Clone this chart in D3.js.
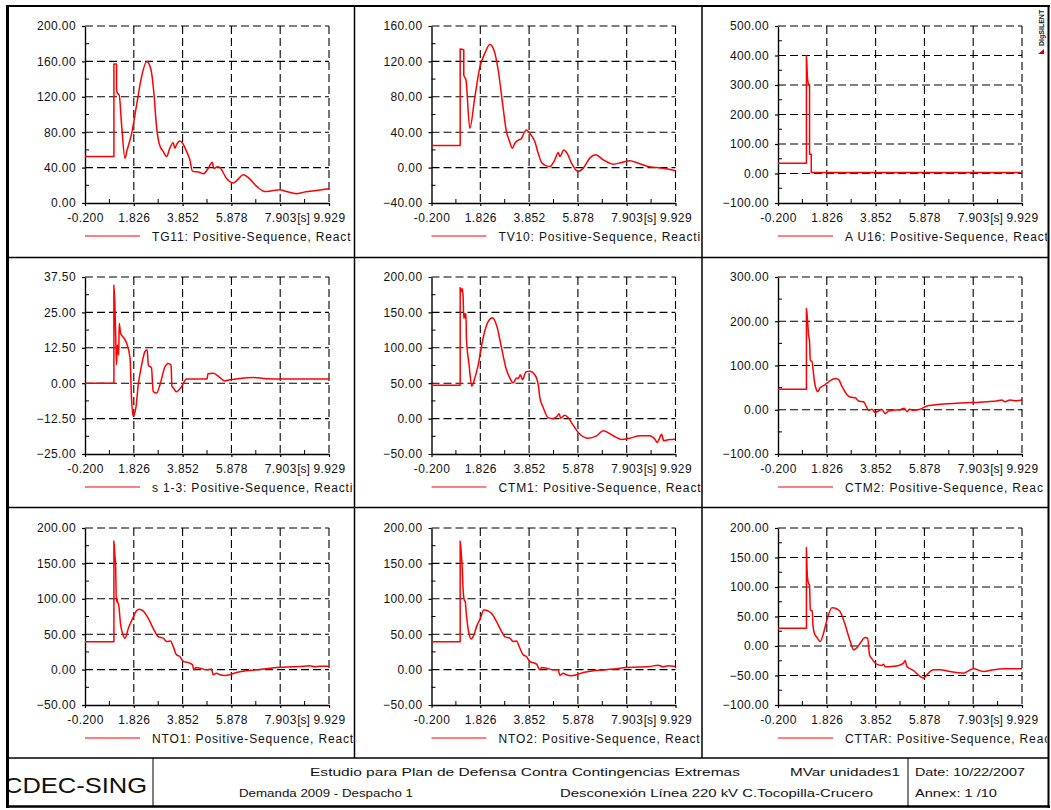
<!DOCTYPE html>
<html>
<head>
<meta charset="utf-8">
<script src="https://cdn.jsdelivr.net/npm/d3@7"></script>
<style>
    body { margin: 0; background: #fff; }
    svg text { font-family: "Liberation Sans", Arial, Helvetica, sans-serif; fill: #111; }
</style>
</head>
<body>
<svg id="chart" width="1051" height="810"></svg>
<script>
// time axis (seconds)
const timeTicks = [-0.2, 1.826, 3.852, 5.878, 7.903, 9.929];
const timeTickLabels = ["-0.200", "1.826", "3.852", "5.878", "7.903", "9.929"];
const timeUnit = "[s]";

// legend labels, as far as the plot cell shows them
const legendNames = [
    "TG11: Positive-Sequence, React",
    "TV10: Positive-Sequence, Reacti",
    "A U16: Positive-Sequence, React",
    "s 1-3: Positive-Sequence, Reactiv",
    "CTM1: Positive-Sequence, React",
    "CTM2: Positive-Sequence, Reac",
    "NTO1: Positive-Sequence, React",
    "NTO2: Positive-Sequence, React",
    "CTTAR: Positive-Sequence, Reac"
];

const yTicks = [
    [0, 40, 80, 120, 160, 200],
    [-40, 0, 40, 80, 120, 160],
    [-100, 0, 100, 200, 300, 400, 500],
    [-25, -12.5, 0, 12.5, 25, 37.5],
    [-50, 0, 50, 100, 150, 200],
    [-100, 0, 100, 200, 300],
    [-50, 0, 50, 100, 150, 200],
    [-50, 0, 50, 100, 150, 200],
    [-100, -50, 0, 50, 100, 150, 200]
];

// reactive power traces [t, MVar]
const tg11 = [[-0.2,52.5],[1.0,52.5],[1.0,157],[1.11,157],[1.11,128],[1.15,124],[1.22,122],[1.32,88],[1.46,50.5],[1.55,60],[1.74,79],[1.95,112],[2.15,143],[2.36,160],[2.46,157],[2.56,148],[2.66,124],[2.77,86],[2.88,67],[3.05,58],[3.19,52.5],[3.32,62],[3.46,68],[3.53,62],[3.6,66],[3.74,70],[3.85,67.5],[4.02,58],[4.15,49],[4.26,36],[4.57,34.5],[4.71,33],[4.91,39],[5.08,46],[5.15,39],[5.29,41],[5.4,40],[5.67,28],[5.95,22.5],[6.16,27],[6.36,32],[6.57,29],[6.92,19],[7.26,13],[7.61,14],[7.88,15],[8.16,13],[8.58,10.5],[8.85,12],[9.06,13],[9.4,14],[9.93,16]];
const tv10 = [[-0.2,25],[0.99,25],[0.99,134],[1.14,133],[1.14,104.5],[1.23,99],[1.39,44.4],[1.6,80],[1.81,113.8],[2.01,128.9],[2.22,139],[2.39,133],[2.57,110],[2.75,72.6],[2.91,40.7],[3.02,31.3],[3.16,21.9],[3.26,27.5],[3.4,31],[3.54,33],[3.63,38.8],[3.74,42.6],[3.88,38.8],[4.09,29.4],[4.23,16.2],[4.37,5.7],[4.57,1.9],[4.71,1.2],[4.92,8.8],[5.06,17],[5.13,12.5],[5.29,20],[5.43,16.3],[5.61,5],[5.89,-4.4],[6.1,-0.6],[6.37,10.7],[6.62,14.4],[6.93,8.8],[7.34,3.9],[7.69,5.8],[8.03,7.7],[8.38,5],[8.79,1.3],[9.14,0.1],[9.35,-0.6],[9.55,-1.4],[9.93,-3.6]];
const au16 = [[-0.2,35],[0.98,35],[0.98,400],[1.02,330],[1.06,305],[1.11,300],[1.11,65],[1.18,65],[1.18,3],[9.93,3]];
const s13 = [[-0.2,0],[1.0,0],[1.0,34.6],[1.04,27.6],[1.07,18.2],[1.11,6.5],[1.14,13.5],[1.2,10],[1.22,21.1],[1.28,17.6],[1.42,15.9],[1.53,14.1],[1.67,8.8],[1.73,-5.1],[1.8,-11.6],[1.91,-8.8],[2.01,-0.6],[2.15,6.4],[2.29,11.2],[2.38,11.8],[2.43,6.4],[2.56,5.4],[2.63,-2.9],[2.77,-3.5],[2.91,-0.6],[3.12,5.8],[3.25,7],[3.37,6.4],[3.41,-1.2],[3.46,-1.6],[3.6,-3],[3.81,-1.2],[4.01,1.5],[4.22,1.5],[4.57,1.5],[4.87,1.5],[4.9,3.3],[5.12,3.5],[5.4,2],[5.6,0.8],[5.81,1.2],[6.23,1.7],[6.78,2],[7.33,1.6],[8.02,1.5],[9.93,1.5]];
const ctm1 = [[-0.2,47],[0.99,47],[0.99,185],[1.02,179],[1.07,183.6],[1.11,174],[1.14,141.6],[1.17,148.6],[1.2,141.6],[1.23,148.6],[1.25,113.5],[1.36,76],[1.47,45.8],[1.6,57.5],[1.74,76],[1.94,113.5],[2.15,137],[2.33,142.5],[2.5,132],[2.71,99.5],[2.91,69],[3.05,57.5],[3.19,50.5],[3.33,57.5],[3.4,56.5],[3.49,62],[3.58,55],[3.72,66],[3.88,67],[4.09,62],[4.23,48],[4.3,29.4],[4.44,15.4],[4.64,1.4],[4.85,0],[5.02,3.7],[5.1,7],[5.16,0.5],[5.33,4.7],[5.47,1.4],[5.61,-5.6],[5.96,-22],[6.3,-27.6],[6.65,-24.3],[6.93,-17.3],[7.34,-24.3],[7.69,-29.4],[8.03,-27.6],[8.45,-24.3],[8.86,-24.3],[9.07,-29],[9.17,-33.6],[9.25,-29],[9.35,-22],[9.44,-31.3],[9.62,-30],[9.93,-29]];
const ctm2 = [[-0.2,46.5],[0.98,46.5],[0.98,229],[1.03,199],[1.07,169],[1.11,154],[1.14,111],[1.21,109.6],[1.25,94],[1.31,64.5],[1.39,45.8],[1.44,40.6],[1.55,49.5],[1.76,57],[1.97,66],[2.18,70.5],[2.32,68],[2.45,53.3],[2.66,34.6],[2.8,28.6],[3.01,27],[3.14,19.6],[3.35,18.1],[3.49,4.7],[3.56,-1.3],[3.7,1],[3.84,-6.5],[3.97,-2.8],[4.11,1],[4.25,-8.8],[4.39,-2.8],[4.6,-1.3],[4.87,0.2],[5.04,3.2],[5.15,-4.3],[5.26,1],[5.42,-1.3],[5.7,1],[5.98,8.4],[6.25,10.6],[6.67,12.9],[7.08,14.4],[7.64,15.9],[8.05,16.6],[8.46,18.1],[8.88,19.6],[9.09,21.9],[9.22,18.1],[9.43,21.9],[9.71,20.4],[9.93,21.9]];
const nto1 = [[-0.2,39.5],[1.0,39.5],[1.0,181.7],[1.04,161.5],[1.07,147.5],[1.1,95.9],[1.13,100.6],[1.15,95.9],[1.2,91.2],[1.28,63],[1.36,51.3],[1.46,44.3],[1.6,58.3],[1.78,72.4],[1.91,81.8],[2.05,85.1],[2.22,82.7],[2.43,72.4],[2.63,58.3],[2.84,46.6],[3.05,44.3],[3.19,39.6],[3.35,40.5],[3.46,32.6],[3.6,20.8],[3.74,18.5],[3.88,11.5],[4.15,9.1],[4.26,6.8],[4.32,-0.3],[4.4,3],[4.57,2.1],[4.84,-0.3],[5.05,0.7],[5.12,-7.3],[5.26,-5],[5.4,-7.3],[5.6,-8.3],[5.81,-7.3],[6.09,-4],[6.5,-1.7],[6.92,-0.3],[7.33,1.1],[7.75,3],[8.16,3.5],[8.71,4.4],[9.13,5.4],[9.34,4],[9.54,4.9],[9.93,4.9]];
const nto2 = [[-0.2,39.5],[0.99,39.5],[0.99,181.7],[1.05,156.8],[1.07,147.5],[1.11,114.6],[1.16,98.2],[1.2,95.9],[1.25,77],[1.34,53.7],[1.45,43.3],[1.56,49],[1.67,60.7],[1.83,72.4],[1.97,84.2],[2.15,82.7],[2.29,79.5],[2.5,67.7],[2.71,53.7],[2.84,46.6],[3.05,44.3],[3.19,39.6],[3.33,40.5],[3.44,32.6],[3.61,20.8],[3.74,18.5],[3.88,11.5],[4.16,7.7],[4.3,-0.3],[4.37,3],[4.57,2.1],[4.85,-0.3],[5.06,-0.3],[5.13,-8.3],[5.27,-5],[5.4,-7.3],[5.61,-8.7],[5.82,-7.3],[6.1,-4],[6.51,-1.7],[6.93,-0.7],[7.34,0.7],[7.9,3],[8.45,3.5],[8.86,4.4],[9.21,6.3],[9.42,4],[9.62,5.4],[9.93,4.4]];
const cttar = [[-0.2,30],[0.98,30],[0.98,166.8],[1.0,137],[1.03,114.4],[1.07,106],[1.11,103.2],[1.14,61],[1.22,59.3],[1.25,35.6],[1.31,21.6],[1.42,14.3],[1.55,7.5],[1.69,21.6],[1.83,44.1],[2.04,65],[2.25,62.7],[2.38,58.2],[2.59,35.6],[2.8,7.5],[2.94,-6.6],[3.08,-2.6],[3.21,4.7],[3.42,14.3],[3.52,13.1],[3.6,-15],[3.7,-21.8],[3.9,-30.8],[4.11,-33],[4.18,-30.8],[4.25,-35.3],[4.53,-34.7],[4.8,-33],[5.01,-29.1],[5.08,-24.6],[5.15,-34.7],[5.42,-41.5],[5.7,-51.6],[5.84,-54.4],[5.98,-48.8],[6.25,-40.3],[6.53,-40.3],[6.94,-43.2],[7.5,-46],[7.91,-38.7],[8.33,-43.2],[8.74,-40.3],[9.16,-38.7],[9.57,-38.7],[9.93,-38.7]];

const series = [tg11, tv10, au16, s13, ctm1, ctm2, nto1, nto2, cttar];

const footerTitle = "Estudio para Plan de Defensa Contra Contingencias Extremas";
const footerCase = "Demanda 2009 - Despacho 1";
const footerEvent = "Desconexión Línea 220 kV C.Tocopilla-Crucero";
const footerPage = "MVar unidades1";
const footerDate = "Date:  10/22/2007";
const footerAnnex = "Annex: 1 /10";

const svg = d3.select('#chart');
const W = 244, H = 177;
const colEdges = [9, 354.5, 702, 1048];
const x = d3.scaleLinear().domain([-0.2, 9.929]).range([0, W]);
const fmt = d3.format('.2f');
const defs = svg.append('defs');

series.forEach((data, i) => {
    const col = i % 3, row = Math.floor(i / 3);
    const left = 85 + col * 346.5;
    const top = 26 + row * 251;
    const ticks = yTicks[i];
    const y = d3.scaleLinear().domain([ticks[0], ticks[ticks.length - 1]]).range([H, 0]);

    defs.append('clipPath').attr('id', `cell${i}`)
        .append('rect')
        .attr('x', colEdges[col] - left).attr('y', -26)
        .attr('width', colEdges[col + 1] - colEdges[col] - 1).attr('height', 250);

    const g = svg.append('g')
        .attr('transform', `translate(${left},${top})`)
        .attr('clip-path', `url(#cell${i})`);

    // dashed grid (top and right edge included)
    g.append('g').selectAll('line')
        .data(timeTicks.slice(1))
        .join('line')
        .attr('x1', d => x(d)).attr('x2', d => x(d))
        .attr('y1', 0).attr('y2', H)
        .attr('stroke', '#000').attr('stroke-width', 1.1)
        .attr('stroke-dasharray', '8,4');
    g.append('g').selectAll('line')
        .data(ticks.slice(1))
        .join('line')
        .attr('x1', 0).attr('x2', W)
        .attr('y1', d => y(d)).attr('y2', d => y(d))
        .attr('stroke', '#000').attr('stroke-width', 1.1)
        .attr('stroke-dasharray', '8,4');

    // minor ticks, inside
    const xMinor = d3.pairs(timeTicks).map(p => (p[0] + p[1]) / 2);
    const yMinor = d3.pairs(ticks).map(p => (p[0] + p[1]) / 2);
    g.append('g').selectAll('line')
        .data(xMinor)
        .join('line')
        .attr('x1', d => x(d)).attr('x2', d => x(d))
        .attr('y1', H).attr('y2', H - 4)
        .attr('stroke', '#000');
    g.append('g').selectAll('line')
        .data(yMinor)
        .join('line')
        .attr('x1', 0).attr('x2', 4)
        .attr('y1', d => y(d)).attr('y2', d => y(d))
        .attr('stroke', '#000');

    const yAxis = g.append('g')
        .call(d3.axisLeft(y).tickValues(ticks).tickFormat(fmt).tickSize(3).tickSizeOuter(0).tickPadding(6));
    const xAxis = g.append('g')
        .attr('transform', `translate(0,${H})`)
        .call(d3.axisBottom(x).tickValues(timeTicks).tickFormat((d, k) => timeTickLabels[k]).tickSize(3).tickSizeOuter(0).tickPadding(7.5));
    [yAxis, xAxis].forEach(a => {
        a.select('.domain').attr('stroke', '#000').attr('stroke-width', 1.4);
        a.selectAll('.tick line').attr('stroke', '#000').attr('stroke-width', 1.2);
        a.selectAll('text')
            .style('font-size', '12px')
            .style('letter-spacing', '0.4px')
            .attr('fill', '#111');
    });
    xAxis.append('text')
        .attr('x', (x(timeTicks[4]) + x(timeTicks[5])) / 2 - 1)
        .attr('y', 19)
        .attr('text-anchor', 'middle')
        .style('font-size', '12px')
        .text(timeUnit);

    const line = d3.line()
        .x(d => x(d[0]))
        .y(d => y(d[1]))
        .curve(d3.curveMonotoneX);
    g.append('path')
        .datum(data)
        .attr('d', line)
        .attr('fill', 'none')
        .attr('stroke', '#f00')
        .attr('stroke-width', 1.5)
        .attr('stroke-linejoin', 'round');

    // legend
    g.append('line')
        .attr('x1', 0).attr('x2', 55)
        .attr('y1', 210).attr('y2', 210)
        .attr('stroke', '#f00').attr('stroke-width', 1.2);
    g.append('text')
        .attr('x', 67).attr('y', 215)
        .style('font-size', '12px')
        .style('letter-spacing', '0.85px')
        .text(legendNames[i]);
});

// frame
const frame = svg.append('g').attr('stroke', '#000').attr('fill', 'none');
frame.append('line').attr('x1', 7.5).attr('x2', 7.5).attr('y1', 5).attr('y2', 808).attr('stroke-width', 3);
frame.append('line').attr('x1', 6).attr('x2', 1050).attr('y1', 6).attr('y2', 6).attr('stroke-width', 2);
frame.append('line').attr('x1', 1048.5).attr('x2', 1048.5).attr('y1', 5).attr('y2', 808).attr('stroke-width', 2);
frame.append('line').attr('x1', 6).attr('x2', 1050).attr('y1', 806.5).attr('y2', 806.5).attr('stroke-width', 2.5);
[257.5, 507.5, 758].forEach(yy => {
    frame.append('line').attr('x1', 7).attr('x2', 1049).attr('y1', yy).attr('y2', yy).attr('stroke-width', 1.5);
});
[colEdges[1], colEdges[2]].forEach(xx => {
    frame.append('line').attr('x1', xx).attr('x2', xx).attr('y1', 6).attr('y2', 758).attr('stroke-width', 1.5);
});
[153, 908].forEach(xx => {
    frame.append('line').attr('x1', xx).attr('x2', xx).attr('y1', 758).attr('y2', 806).attr('stroke-width', 1);
});

// footer
defs.append('clipPath').attr('id', 'logoClip')
    .append('rect').attr('x', 9).attr('y', 759).attr('width', 143).attr('height', 46);
svg.append('text')
    .attr('x', 4).attr('y', 793)
    .attr('clip-path', 'url(#logoClip)')
    .attr('textLength', 143).attr('lengthAdjust', 'spacingAndGlyphs')
    .style('font-size', '22px')
    .text('CDEC-SING');

const footerTexts = [
    {t: footerTitle, x: 310, y: 776, w: 430, s: 11.5},
    {t: footerPage, x: 790, y: 776, w: 110, s: 11.5},
    {t: footerDate, x: 915, y: 776, w: 110, s: 11},
    {t: footerCase, x: 239, y: 797, w: 174, s: 11.5},
    {t: footerEvent, x: 560, y: 797, w: 313, s: 11.5},
    {t: footerAnnex, x: 915, y: 797, w: 82, s: 10.5}
];
svg.append('g').selectAll('text')
    .data(footerTexts)
    .join('text')
    .attr('x', d => d.x).attr('y', d => d.y)
    .attr('textLength', d => d.w).attr('lengthAdjust', 'spacingAndGlyphs')
    .style('font-size', d => d.s + 'px')
    .text(d => d.t);

// DIgSILENT mark
svg.append('text')
    .attr('transform', 'translate(1044,46) rotate(-90)')
    .style('font-size', '7px')
    .style('font-weight', 'bold')
    .text('DIgSILENT');
svg.append('path')
    .attr('d', 'M1044,49 L1044,54 L1038,54 Z')
    .attr('fill', '#c00');
</script>
</body>
</html>
